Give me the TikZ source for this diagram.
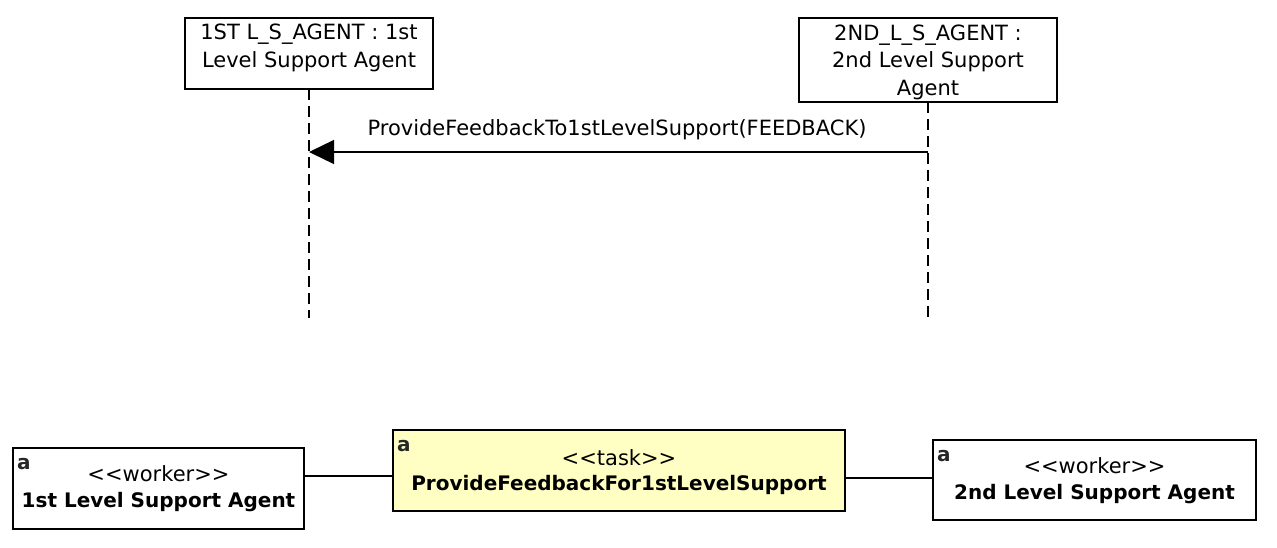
\documentclass[tikz,border=0pt]{standalone}
\usepackage{fontspec}
\setmainfont{DejaVu Sans}
\usetikzlibrary{arrows.meta}
\begin{document}
\begin{tikzpicture}[x=1pt,y=-1pt,
  lbox/.style={draw,line width=1.3pt,fill=white,inner sep=0pt},
  txt/.style={font=\fontsize{21}{27.5}\selectfont,inner sep=0pt},
  btxt/.style={font=\fontsize{20}{27}\selectfont\bfseries,inner sep=0pt},
  icon/.style={font=\fontsize{20}{20}\selectfont\bfseries,text=black!85,inner sep=0pt,anchor=north west},
  life/.style={line width=1.3pt,dash pattern=on 11pt off 6pt},
  conn/.style={line width=1.3pt}]
\useasboundingbox (0,0) rectangle (1277,547);
% sequence part
\draw[lbox] (185,18) rectangle (433,89);
\node[txt,align=center] (l1) at (309,48) {1ST L\_S\_AGENT : 1st\\Level Support Agent};
\draw[lbox] (799,18) rectangle (1057,102);
\node[txt,align=center] (l2) at (928,62) {2ND\_L\_S\_AGENT :\\2nd Level Support\\Agent};
\coordinate (t1) at (309,89); \coordinate (b1) at (309,318);
\coordinate (t2) at (928,102); \coordinate (b2) at (928,318);
\draw[life] (t1) -- (b1);
\draw[life] (t2) -- (b2);
\coordinate (m2) at (928,152); \coordinate (m1) at (309,152);
\draw[conn,-{Triangle[length=25pt,width=24pt]}] (m2) -- (m1);
\node[txt] (msg) at (617,130) {ProvideFeedbackTo1stLevelSupport(FEEDBACK)};
% bottom part
\node[lbox,minimum width=291pt,minimum height=81pt] (w1) at (158.5,488.5) {};
\node[txt] at (158.5,474) {<{}<worker>{}>};
\node[btxt] at (158.5,502) {1st Level Support Agent};
\node[icon] at (17,458) {a};
\node[lbox,fill={rgb,255:red,255;green,255;blue,196},minimum width=452pt,minimum height=81pt] (task) at (619,470.5) {};
\node[txt] at (619,458) {<{}<task>{}>};
\node[btxt] at (619,485) {ProvideFeedbackFor1stLevelSupport};
\node[icon] at (397,440) {a};
\node[lbox,minimum width=323pt,minimum height=80pt] (w2) at (1094.5,480) {};
\node[txt] at (1094.5,466) {<{}<worker>{}>};
\node[btxt] at (1094.5,494) {2nd Level Support Agent};
\node[icon] at (937,450) {a};
\draw[conn] (w1.east |- 0,476) -- (task.west |- 0,476);
\draw[conn] (task.east |- 0,478) -- (w2.west |- 0,478);
\end{tikzpicture}
\end{document}
